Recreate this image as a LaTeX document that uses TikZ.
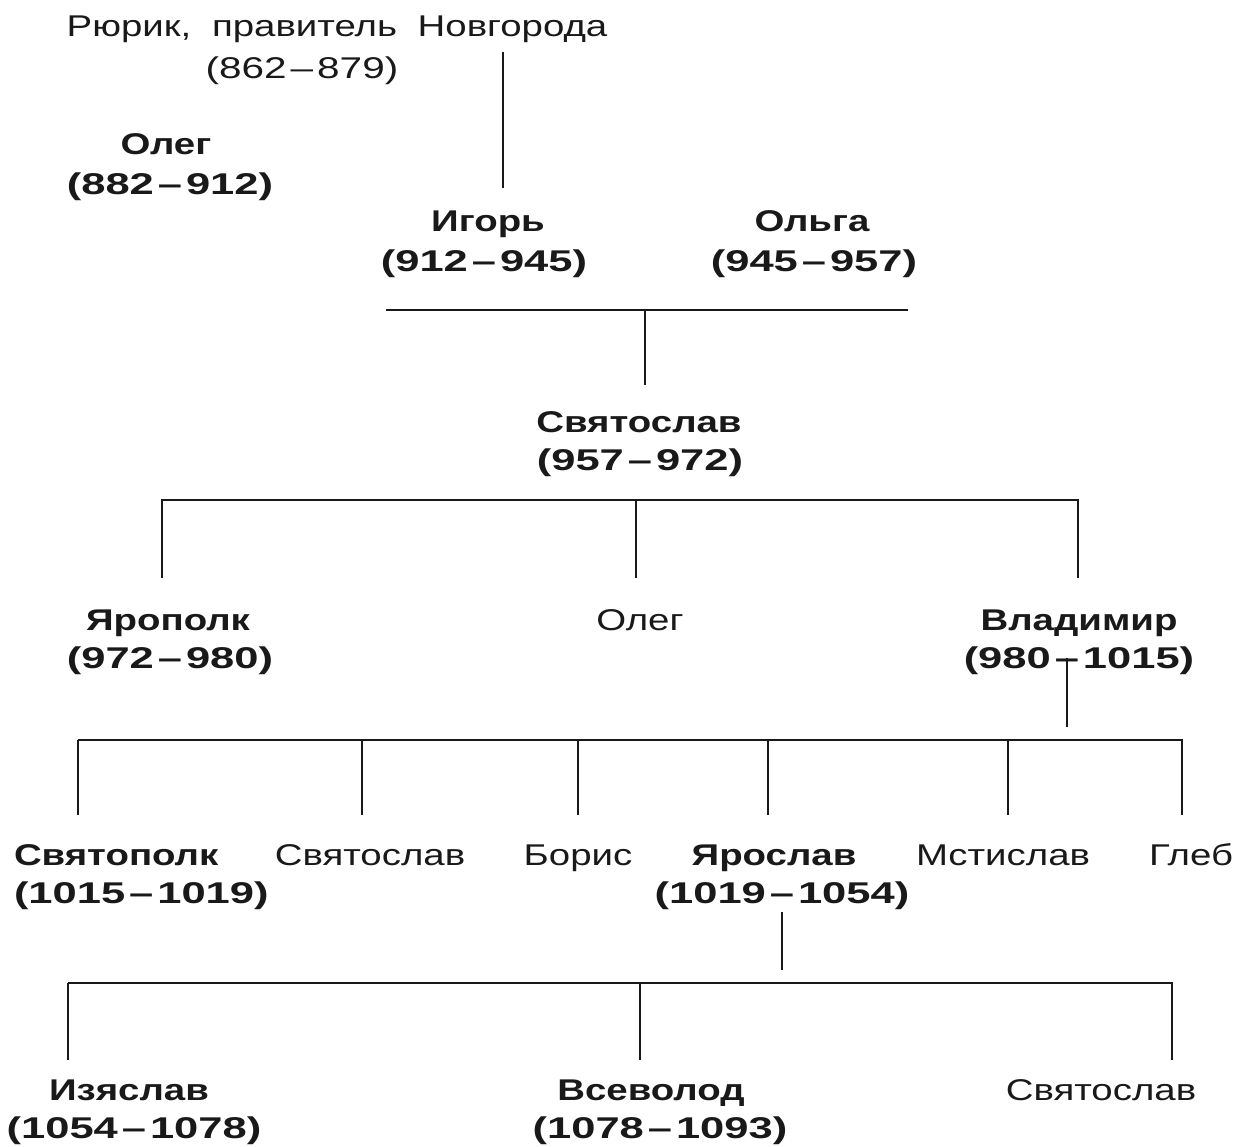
\documentclass[tikz,border=0pt]{standalone}
\usepackage{fontspec}
\setmainfont[FakeStretch=1.28]{Liberation Sans}
\newfontfamily\datebffont[FakeStretch=1.45]{Liberation Sans}
\newfontfamily\datergfont[FakeStretch=1.35]{Liberation Sans}
\newcommand\mydash{\kern4pt–\kern4pt}
\begin{document}
\begin{tikzpicture}[x=1pt,y=-1pt,
  every node/.style={inner sep=0pt,outer sep=0pt,anchor=base,text=black!90},
  nm/.style={font=\fontsize{30}{36}\selectfont\bfseries},
  rg/.style={font=\fontsize{30}{36}\selectfont},
  dtb/.style={font=\fontsize{30}{36}\selectfont\datebffont\bfseries},
  dtr/.style={font=\fontsize{30}{36}\selectfont\datergfont},
  ln/.style={line width=1.6pt,black!90}]
\useasboundingbox (0,0) rectangle (1237,1147);
% row 0
\node[rg] (rurik) at (337,37) {Рюрик,\hspace{10pt} правитель\hspace{10pt} Новгорода};
\node[dtr] (rurikd) at (302,79) {(862\mydash879)};
\node[nm] (oleg) at (166,155) {Олег};
\node[dtb] (olegd) at (170,195) {(882\mydash912)};
% row 1
\node[nm] (igor) at (488,232) {Игорь};
\node[dtb] (igord) at (484,272) {(912\mydash945)};
\node[nm] (olga) at (812,232) {Ольга};
\node[dtb] (olgad) at (814,272) {(945\mydash957)};
% row 2
\node[nm] (svyat) at (639,432) {Святослав};
\node[dtb] (svyatd) at (640,470) {(957\mydash972)};
% row 3
\node[nm] (yaropolk) at (168,630) {Ярополк};
\node[dtb] (yaropolkd) at (170,668) {(972\mydash980)};
\node[rg] (oleg2) at (640,630) {Олег};
\node[nm] (vlad) at (1079,630) {Владимир};
\node[dtb] (vladd) at (1079,668) {(980\mydash1015)};
% row 4
\node[nm,anchor=base west] (svyatopolk) at (14,865) {Святополк};
\node[dtb,anchor=base west] (svyatopolkd) at (14,903) {(1015\mydash1019)};
\node[rg] (svyat2) at (370,865) {Святослав};
\node[rg] (boris) at (578,865) {Борис};
\node[nm] (yaroslav) at (774,865) {Ярослав};
\node[dtb] (yaroslavd) at (782,903) {(1019\mydash1054)};
\node[rg] (mstislav) at (1003,865) {Мстислав};
\node[rg,anchor=base east] (gleb) at (1233,865) {Глеб};
% row 5
\node[nm] (izyaslav) at (129,1100) {Изяслав};
\node[dtb] (izyaslavd) at (134,1138) {(1054\mydash1078)};
\node[nm] (vsevolod) at (651,1100) {Всеволод};
\node[dtb] (vsevolodd) at (660,1138) {(1078\mydash1093)};
\node[rg] (svyat3) at (1101,1100) {Святослав};
% coordinates
\coordinate (r1) at (503,52); \coordinate (r2) at (503,188);
\coordinate (a1) at (386,310); \coordinate (a2) at (908,310);
\coordinate (a3) at (645,310); \coordinate (a4) at (645,385);
\coordinate (b1) at (162,500); \coordinate (b2) at (1078,500);
\coordinate (b3) at (162,578); \coordinate (b4) at (636,500);
\coordinate (b5) at (636,578); \coordinate (b6) at (1078,578);
\coordinate (v1) at (1067,658); \coordinate (v2) at (1067,727);
\coordinate (c1) at (78,740); \coordinate (c2) at (1182,740);
\coordinate (y1) at (782,912); \coordinate (y2) at (782,970);
\coordinate (d1) at (68,983); \coordinate (d2) at (1172,983);
\coordinate (d3) at (640,983);
\draw[ln] (r1) -- (r2);
\draw[ln] (a1) -- (a2);
\draw[ln] (a3) -- (a4);
\draw[ln] (b3) -- (b1) -- (b2) -- (b6);
\draw[ln] (b4) -- (b5);
\draw[ln] (v1) -- (v2);
\draw[ln] (c1) -- ++(0,75);
\draw[ln] (c1) -- (c2) -- ++(0,75);
\foreach \xx in {362,578,768,1008} \draw[ln] (\xx,740) -- (\xx,815);
\draw[ln] (y1) -- (y2);
\draw[ln] (d1) -- (d2) -- ++(0,77);
\draw[ln] (d1) -- ++(0,77);
\draw[ln] (d3) -- ++(0,77);
\end{tikzpicture}
\end{document}
